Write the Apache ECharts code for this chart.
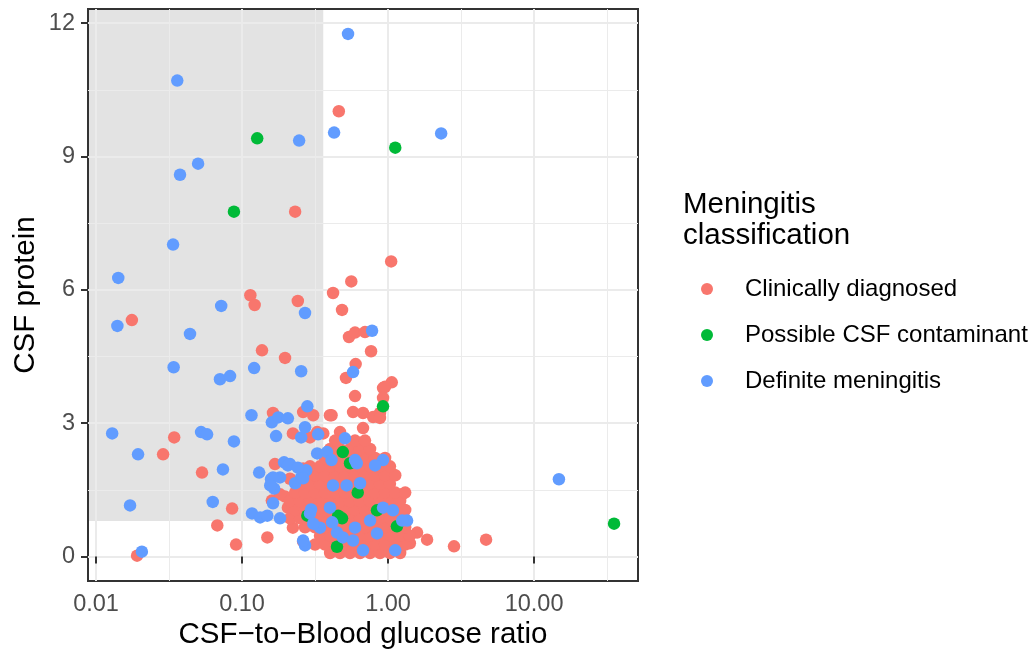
<!DOCTYPE html>
<html>
<head>
<meta charset="utf-8">
<script src="https://cdn.jsdelivr.net/npm/echarts@6/dist/echarts.min.js"></script>
<style>
html, body { margin: 0; padding: 0; background: #fff; }
#main { width: 1031px; height: 654px; }
</style>
</head>
<body>
<div id="main"></div>
<script>
var seriesNames = ['Clinically diagnosed', 'Possible CSF contaminant', 'Definite meningitis'];
var seriesColors = ['#F8766D', '#00BA38', '#619CFF'];
var xTicks = [0.01, 0.1, 1, 10];
var xMinor = [0.0316, 0.316, 3.16, 31.6];
var yTicks = [0, 3, 6, 9, 12];
var yMinor = [1.5, 4.5, 7.5, 10.5];
var shadeX = 0.36; // shaded region: x below this, y above shadeY
var shadeY = 0.8;

// Clinically diagnosed, loose points
var clinical = [
  [0.46, 10.02], [0.231, 7.76], [1.05, 6.64], [0.56, 6.19], [0.42, 5.93], [0.114, 5.88],
  [0.122, 5.66], [0.241, 5.75], [0.0176, 5.32], [0.484, 5.55], [0.54, 4.94], [0.594, 5.04],
  [0.695, 5.05], [0.765, 4.62], [0.137, 4.64], [0.197, 4.47], [0.60, 4.33], [0.515, 4.02],
  [0.594, 3.61], [0.924, 3.79], [1.06, 3.92], [0.954, 3.82], [0.924, 3.57], [0.41, 3.18],
  [0.576, 3.25], [0.674, 3.23], [0.79, 3.14], [0.881, 3.23], [0.88, 3.12], [0.674, 2.89],
  [0.469, 2.80], [0.753, 2.28], [0.622, 2.50], [0.163, 3.23], [0.262, 3.25], [0.307, 3.18],
  [0.40, 3.18], [0.223, 2.77], [0.292, 2.68], [0.327, 2.80], [0.36, 2.77], [0.0343, 2.68],
  [0.0288, 2.30], [0.0532, 1.89], [0.0677, 0.70], [0.0855, 1.08], [0.091, 0.27], [0.149, 0.43],
  [0.0191, 0.02], [0.168, 2.08], [0.262, 1.98], [0.16, 1.26], [0.231, 1.26], [0.182, 1.40],
  [0.206, 1.10], [0.223, 0.65], [0.262, 0.34], [0.197, 1.35], [0.213, 1.75], [1.85, 0.38],
  [2.83, 0.23], [4.69, 0.38], [1.58, 0.54], [1.41, 0.30], [1.25, 1.40], [1.06, 1.87]
];
// Clinically diagnosed, the dense cluster read row by row: [y, x values]
var clinicalRows = [
  [0.08, [0.401, 0.469, 0.549, 0.643, 0.753, 0.881, 1.03, 1.21]],
  [0.27, [0.316, 0.37, 0.434, 0.507, 0.594, 0.695, 0.815, 0.954, 1.12, 1.31]],
  [0.47, [0.342, 0.401, 0.469, 0.549, 0.643, 0.753, 0.881, 1.03, 1.21, 1.41]],
  [0.66, [0.27, 0.316, 0.37, 0.434, 0.507, 0.594, 0.695, 0.815, 0.954, 1.12, 1.31]],
  [0.86, [0.213, 0.25, 0.292, 0.342, 0.401, 0.469, 0.549, 0.643, 0.753, 0.881, 1.03, 1.21]],
  [1.05, [0.231, 0.27, 0.316, 0.37, 0.434, 0.507, 0.594, 0.695, 0.815, 0.954, 1.12, 1.31]],
  [1.25, [0.213, 0.25, 0.292, 0.342, 0.401, 0.469, 0.549, 0.643, 0.753, 0.881, 1.03, 1.21]],
  [1.44, [0.231, 0.27, 0.316, 0.37, 0.434, 0.507, 0.594, 0.695, 0.815, 0.954, 1.12, 1.31]],
  [1.64, [0.25, 0.292, 0.342, 0.401, 0.469, 0.549, 0.643, 0.753, 0.881, 1.03]],
  [1.83, [0.27, 0.316, 0.37, 0.434, 0.507, 0.594, 0.695, 0.815, 0.954, 1.12]],
  [2.03, [0.292, 0.342, 0.401, 0.469, 0.549, 0.643, 0.753, 0.881, 1.03]],
  [2.22, [0.37, 0.434, 0.507, 0.594, 0.695, 0.815, 0.954]],
  [2.42, [0.401, 0.469, 0.549, 0.643, 0.753]],
  [2.61, [0.434, 0.594, 0.695]]
];
var contaminant = [
  [0.127, 9.41], [1.12, 9.20], [0.088, 7.76], [35.3, 0.74], [0.924, 3.38], [0.49, 2.35],
  [0.484, 0.86], [0.84, 1.04], [1.15, 0.68], [0.28, 0.92], [0.447, 0.22], [0.455, 0.92],
  [0.62, 1.44], [0.549, 2.10]
];
var definite = [
  [0.532, 11.76], [0.036, 10.71], [0.427, 9.54], [2.31, 9.52], [0.246, 9.36], [0.050, 8.84],
  [0.0376, 8.59], [0.0337, 7.02], [0.0142, 6.27], [0.072, 5.64], [0.014, 5.19], [0.044, 5.01],
  [0.034, 4.26], [0.254, 4.17], [0.121, 4.24], [0.0706, 3.99], [0.0828, 4.06], [0.0129, 2.77],
  [0.0524, 2.80], [0.0576, 2.75], [0.088, 2.59], [0.0194, 2.30], [0.074, 1.96], [0.0171, 1.15],
  [0.0206, 0.11], [0.063, 1.23], [0.117, 0.97], [0.133, 0.88], [0.149, 0.92], [0.182, 0.86],
  [0.131, 1.89], [0.116, 3.18], [0.171, 2.71], [0.16, 3.02], [0.177, 3.13], [0.206, 3.11],
  [0.28, 3.38], [0.27, 2.91], [0.254, 2.68], [0.332, 2.75], [0.194, 2.12], [0.213, 2.08],
  [0.158, 1.74], [0.182, 1.78], [0.166, 1.53], [0.231, 1.65], [0.254, 1.78], [0.275, 1.94],
  [0.327, 2.32], [0.382, 2.35], [0.297, 1.06], [0.27, 0.25], [0.163, 1.20], [0.27, 5.48],
  [0.576, 4.15], [0.777, 5.08], [0.507, 2.66], [14.8, 1.74], [0.924, 2.17], [0.815, 2.05],
  [0.594, 2.17], [0.61, 2.10], [0.41, 2.17], [0.42, 1.60], [0.52, 1.60], [0.643, 1.65],
  [1.08, 1.04], [0.924, 1.10], [1.35, 0.81], [1.25, 0.81], [0.753, 0.81], [0.447, 0.54],
  [0.49, 0.43], [0.84, 0.52], [0.576, 0.36], [0.594, 0.65], [0.674, 0.14], [1.12, 0.14],
  [0.163, 1.78], [0.206, 2.05], [0.241, 2.00], [0.262, 1.76], [0.156, 1.60], [0.292, 0.97],
  [0.342, 0.65], [0.307, 0.74], [0.414, 0.77], [0.40, 1.10], [0.262, 0.36]
];

clinicalRows.forEach(function (row) {
  row[1].forEach(function (x) { clinical.push([x, row[0]]); });
});

var xMin = 0.00881, xMax = 51.5;
var yMin = -0.55, yMax = 12.32;
var font = "'Liberation Sans', Arial, Helvetica, sans-serif";

var chart = echarts.init(document.getElementById('main'));

function pointSeries(i, data) {
  return {
    name: seriesNames[i],
    type: 'scatter',
    data: data,
    symbol: 'circle',
    symbolSize: 12.5,
    itemStyle: { color: seriesColors[i], opacity: 1 },
    emphasis: { disabled: true },
    zlevel: 1,
    z: 3
  };
}

// hidden axes that only carry the thin minor grid lines
function minorAxis(base, values) {
  return Object.assign({}, base, {
    axisLine: { show: false },
    axisTick: { show: false, customValues: values },
    axisLabel: { show: false },
    splitLine: { show: true, lineStyle: { color: '#EBEBEB', width: 1 } }
  });
}

var option = {
  animation: false,
  backgroundColor: '#fff',
  textStyle: { fontFamily: font },
  title: {
    text: 'Meningitis\nclassification',
    left: 683,
    top: 189,
    padding: 0,
    textStyle: { fontFamily: font, fontSize: 29.5, fontWeight: 'normal', color: '#000', lineHeight: 31 }
  },
  legend: {
    data: seriesNames,
    orient: 'vertical',
    left: 701,
    top: 277,
    padding: 0,
    icon: 'circle',
    itemWidth: 66,
    itemHeight: 12,
    itemGap: 22,
    selectedMode: false,
    textStyle: { fontFamily: font, fontSize: 24, color: '#000', lineHeight: 20 }
  },
  grid: {
    left: 88, right: 393, top: 9, bottom: 73,
    show: true,
    backgroundColor: 'transparent',
    borderColor: '#333',
    borderWidth: 2,
    outerBoundsMode: 'none'
  },
  xAxis: [{
    type: 'log',
    logBase: 10,
    min: xMin,
    max: xMax,
    name: 'CSF\u2212to\u2212Blood glucose ratio',
    nameLocation: 'middle',
    nameGap: 39,
    nameMoveOverlap: false,
    nameTextStyle: { fontFamily: font, fontSize: 29.5, color: '#000' },
    axisLine: { show: false },
    axisTick: { show: true, length: 7, customValues: xTicks, lineStyle: { color: '#333', width: 2 } },
    axisLabel: {
      customValues: xTicks,
      margin: 12,
      fontFamily: font,
      fontSize: 23.5,
      color: '#4D4D4D',
      formatter: function (v) { return Number(v).toFixed(2); }
    },
    splitLine: { show: true, lineStyle: { color: '#EBEBEB', width: 2 } }
  }, minorAxis({ type: 'log', logBase: 10, min: xMin, max: xMax, position: 'top' }, xMinor)],
  yAxis: [{
    type: 'value',
    min: yMin,
    max: yMax,
    name: 'CSF protein',
    nameLocation: 'middle',
    nameGap: 47,
    nameMoveOverlap: false,
    nameTextStyle: { fontFamily: font, fontSize: 29.5, color: '#000' },
    axisLine: { show: false },
    axisTick: { show: true, length: 7, customValues: yTicks, lineStyle: { color: '#333', width: 2 } },
    axisLabel: {
      customValues: yTicks,
      margin: 13,
      fontFamily: font,
      fontSize: 23.5,
      color: '#4D4D4D'
    },
    splitLine: { show: true, lineStyle: { color: '#EBEBEB', width: 2 } }
  }, minorAxis({ type: 'value', min: yMin, max: yMax, position: 'right' }, yMinor)],
  series: [
    {
      name: 'shade',
      type: 'scatter',
      data: [],
      z: -1,
      silent: true,
      markArea: {
        z: -1,
        silent: true,
        itemStyle: { color: '#E3E3E3' },
        emphasis: { disabled: true },
        data: [[{ xAxis: 0.00895, yAxis: shadeY }, { xAxis: shadeX, yAxis: 12.30 }]]
      }
    },
    pointSeries(0, clinical),
    pointSeries(1, contaminant),
    pointSeries(2, definite)
  ]
};

chart.setOption(option);
</script>
</body>
</html>
